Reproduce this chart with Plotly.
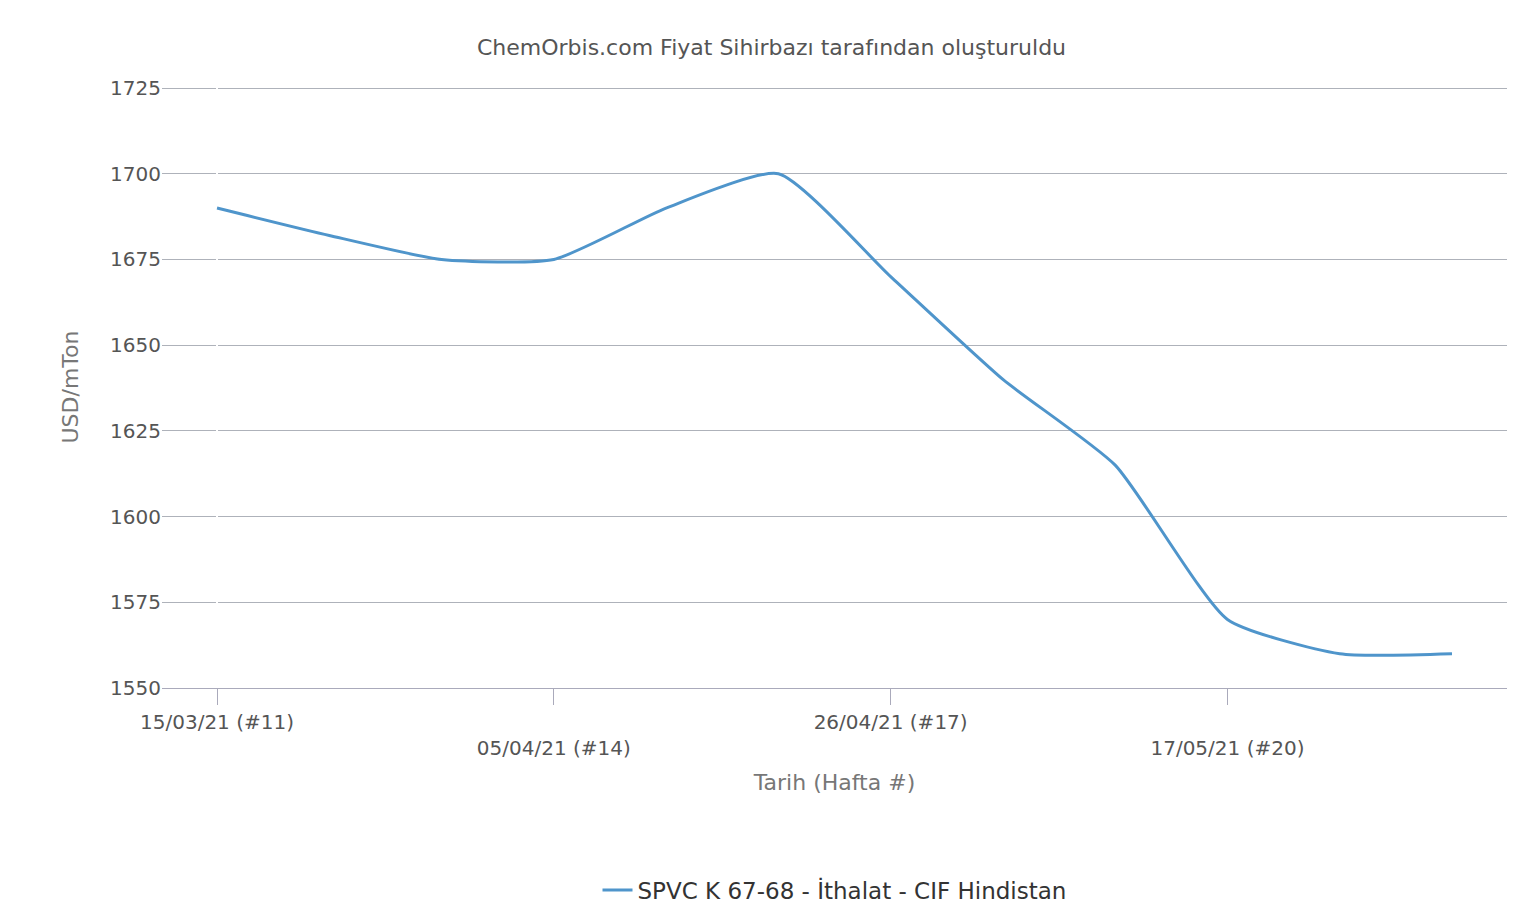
import plotly.graph_objects as go

weeks = list(range(12))
values = [1690, 1682, 1675, 1675, 1690, 1700, 1670, 1640, 1615, 1570, 1560, 1560]
tick_pos = [0, 3, 6, 9]
tick_labels = ["15/03/21 (#11)", "<br>05/04/21 (#14)", "26/04/21 (#17)", "<br>17/05/21 (#20)"]

fig = go.Figure(go.Scatter(
    x=weeks, y=values, mode="lines", line=dict(color="#4f95cb", width=3, shape="spline", smoothing=0.55),
    name="SPVC K 67-68 - İthalat - CIF Hindistan"))

fig.update_layout(
    width=1527, height=915, paper_bgcolor="white", plot_bgcolor="white",
    font=dict(family="DejaVu Sans", color="#555", size=20),
    title=dict(text="ChemOrbis.com Fiyat Sihirbazı tarafından oluşturuldu", x=0.5, y=0.965, xanchor="center",
               font=dict(size=22, color="#555")),
    margin=dict(l=154, r=28, t=78, b=232),
    showlegend=True,
    legend=dict(orientation="h", x=0.5, xanchor="center", y=-0.30, yanchor="top", font=dict(size=23, color="#333")),
    xaxis=dict(range=[-0.49, 11.49], tickvals=tick_pos, ticktext=tick_labels, showgrid=False,
               ticks="outside", ticklen=16, tickcolor="#aab", showline=True, linecolor="#aab",
               title=dict(text="Tarih (Hafta #)", font=dict(size=22, color="#777"), standoff=15)),
    yaxis=dict(range=[1550, 1725.6], tickvals=[1550, 1575, 1600, 1625, 1650, 1675, 1700, 1725],
               gridcolor="#aeb2ba", zeroline=False,
               title=dict(text="USD/mTon", font=dict(size=22, color="#777"), standoff=25)),
)
fig.write_html("out.html")
